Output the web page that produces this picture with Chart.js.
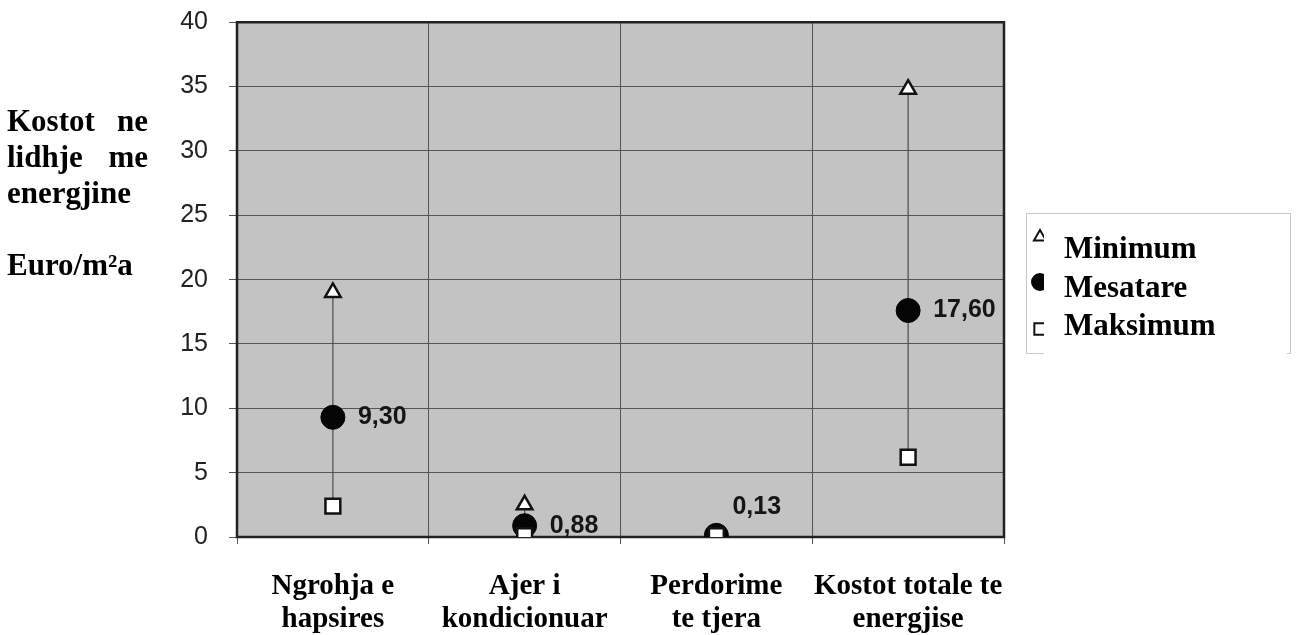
<!DOCTYPE html>
<html>
<head>
<meta charset="utf-8">
<script src="https://cdn.jsdelivr.net/npm/chart.js@4.4.1/dist/chart.umd.min.js"></script>
<style>
  html, body { margin: 0; padding: 0; background: #fff; }
  #wrap { width: 1296px; height: 635px; }
</style>
</head>
<body>
<div id="wrap"><canvas id="costChart" width="1296" height="635"></canvas></div>
<script>
// categories and values
const categories = [
  ['Ngrohja e', 'hapsires'],
  ['Ajer i', 'kondicionuar'],
  ['Perdorime', 'te tjera'],
  ['Kostot totale te', 'energjise']
];
const minimumValues = [19, 2.5, 0.2, 34.8];   // triangles
const averageValues = [9.3, 0.88, 0.13, 17.6]; // circles
const maximumValues = [2.4, 0.1, 0.1, 6.2];   // squares
const yTicks = [0, 5, 10, 15, 20, 25, 30, 35, 40];
const legendLabels = ['Minimum', 'Mesatare', 'Maksimum'];
const yTitleLines = ['Kostot ne', 'lidhje me', 'energjine', '', 'Euro/m\u00b2a'];
const labelAbove = [false, false, true, false];

const serifFamily = '"Liberation Serif", "Times New Roman", serif';
const sideFont = 'bold 31px ' + serifFamily;

function fmt(v) {
  return v.toFixed(2).replace('.', ',');
}

// grey plot background
const backgroundPlugin = {
  id: 'plotBackground',
  beforeDraw(chart) {
    const { ctx, chartArea } = chart;
    ctx.save();
    ctx.fillStyle = '#c3c3c3';
    ctx.fillRect(chartArea.left, chartArea.top, chartArea.right - chartArea.left, chartArea.bottom - chartArea.top);
    ctx.restore();
  }
};

// frame + min/max range lines, drawn under the markers
const framePlugin = {
  id: 'frameAndRanges',
  beforeDatasetsDraw(chart) {
    const { ctx, chartArea } = chart;
    const x = chart.scales.x;
    const y = chart.scales.y;
    ctx.save();
    ctx.strokeStyle = '#555';
    ctx.lineWidth = 1.3;
    categories.forEach((c, i) => {
      const px = x.getPixelForValue(i);
      ctx.beginPath();
      ctx.moveTo(px, y.getPixelForValue(maximumValues[i]));
      ctx.lineTo(px, y.getPixelForValue(minimumValues[i]));
      ctx.stroke();
    });
    ctx.strokeStyle = '#222';
    ctx.lineWidth = 2.5;
    ctx.strokeRect(chartArea.left, chartArea.top, chartArea.right - chartArea.left, chartArea.bottom - chartArea.top);
    ctx.restore();
  }
};

// value labels next to the average markers
const valueLabelPlugin = {
  id: 'valueLabels',
  afterDatasetsDraw(chart) {
    const { ctx } = chart;
    const meta = chart.getDatasetMeta(1);
    ctx.save();
    ctx.font = 'bold 25px "Liberation Sans", Arial, sans-serif';
    ctx.fillStyle = '#151515';
    ctx.textAlign = 'left';
    ctx.textBaseline = 'middle';
    meta.data.forEach((pt, i) => {
      if (labelAbove[i]) {
        ctx.fillText(fmt(averageValues[i]), pt.x + 16, pt.y - 28);
      } else {
        ctx.fillText(fmt(averageValues[i]), pt.x + 25, pt.y);
      }
    });
    ctx.restore();
  }
};

// axis title on the left and the legend box on the right
const textPlugin = {
  id: 'sideTexts',
  afterDraw(chart) {
    const { ctx } = chart;
    ctx.save();
    ctx.font = sideFont;
    ctx.fillStyle = '#000';
    ctx.textBaseline = 'alphabetic';
    const left = 7, right = 148;
    yTitleLines.forEach((line, i) => {
      const base = 131 + i * 36;
      const words = line.split(' ');
      if (words.length === 2) {
        ctx.textAlign = 'left';
        ctx.fillText(words[0], left, base);
        ctx.textAlign = 'right';
        ctx.fillText(words[1], right, base);
      } else if (line) {
        ctx.textAlign = 'left';
        ctx.fillText(line, left, base);
      }
    });

    // legend
    ctx.strokeStyle = '#c8c8c8';
    ctx.lineWidth = 1;
    ctx.strokeRect(1026.5, 213.5, 264, 140);
    const ds = chart.data.datasets;
    const markerY = [237, 282, 329];
    const markerR = [7, 8, 8];
    [0, 1, 2].forEach(i => {
      ctx.fillStyle = ds[i].backgroundColor;
      ctx.strokeStyle = ds[i].borderColor;
      ctx.lineWidth = 2;
      Chart.helpers.drawPoint(ctx, { pointStyle: ds[i].pointStyle, radius: markerR[i], borderWidth: 2 }, 1040, markerY[i]);
    });
    ctx.fillStyle = '#fff';
    ctx.fillRect(1044, 217, 243, 140);
    ctx.fillStyle = '#000';
    ctx.font = sideFont;
    ctx.textAlign = 'left';
    legendLabels.forEach((t, i) => {
      ctx.fillText(t, 1064, 258 + i * 38.5);
    });
    ctx.restore();
  }
};

const ctx = document.getElementById('costChart').getContext('2d');
const costChart = new Chart(ctx, {
  type: 'line',
  data: {
    labels: categories,
    datasets: [
      {
        label: legendLabels[0],
        data: minimumValues,
        showLine: false,
        pointStyle: 'triangle',
        pointRadius: 9,
        borderWidth: 2.5,
        backgroundColor: '#fff',
        borderColor: '#111',
        order: 3
      },
      {
        label: legendLabels[1],
        data: averageValues,
        showLine: false,
        pointStyle: 'circle',
        pointRadius: 12,
        borderWidth: 1,
        backgroundColor: '#050505',
        borderColor: '#050505',
        order: 2
      },
      {
        label: legendLabels[2],
        data: maximumValues,
        showLine: false,
        pointStyle: 'rect',
        pointRadius: 10.5,
        borderWidth: 2.5,
        backgroundColor: '#fff',
        borderColor: '#111',
        order: 1
      }
    ]
  },
  options: {
    responsive: false,
    animation: false,
    layout: { padding: { left: 0, right: 292, top: 0, bottom: 0 } },
    plugins: {
      legend: { display: false },
      tooltip: { enabled: false }
    },
    scales: {
      x: {
        offset: true,
        grid: { offset: true, color: '#555', lineWidth: 1, tickLength: 7, drawTicks: true },
        border: { display: false },
        ticks: {
          color: '#000',
          padding: 26,
          maxRotation: 0,
          font: { family: serifFamily, size: 29, weight: 'bold', lineHeight: 1.14 }
        },
        afterFit(scale) { scale.height = 98; }
      },
      y: {
        min: 0,
        max: 40,
        afterBuildTicks(scale) { scale.ticks = yTicks.map(v => ({ value: v })); },
        grid: { color: '#555', lineWidth: 1, tickLength: 8 },
        border: { display: false },
        ticks: {
          color: '#222',
          padding: 21,
          // tiny line height so the top tick label does not push the plot down
          font: { family: '"Liberation Sans", Arial, sans-serif', size: 25, lineHeight: 0.1 }
        },
        afterFit(scale) { scale.width = 237; }
      }
    }
  },
  plugins: [backgroundPlugin, framePlugin, valueLabelPlugin, textPlugin]
});
</script>
</body>
</html>
